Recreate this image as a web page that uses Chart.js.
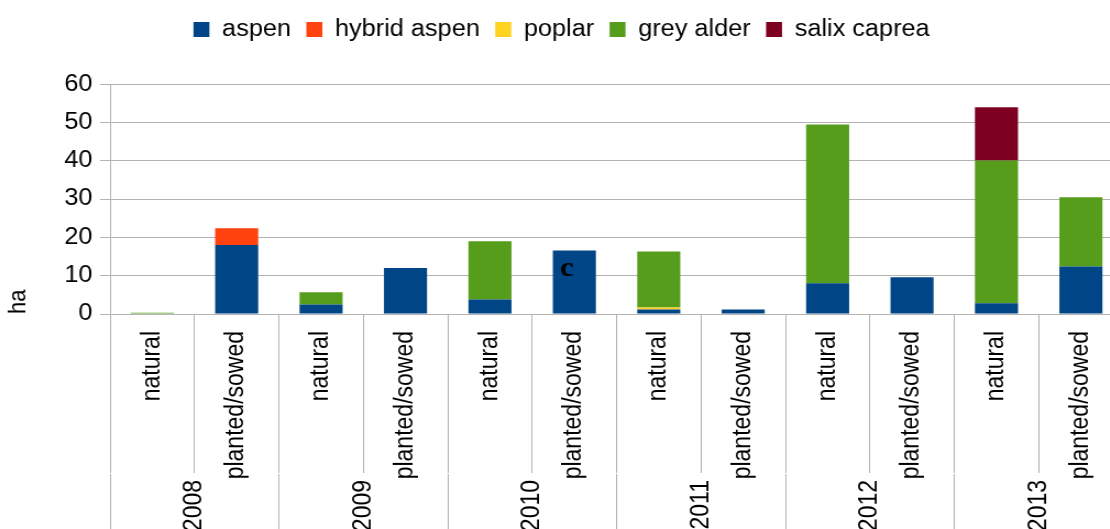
<!DOCTYPE html>
<html>
<head>
<meta charset="utf-8">
<script src="https://cdn.jsdelivr.net/npm/chart.js@4.4.1/dist/chart.umd.min.js"></script>
<style>
  html, body { margin: 0; padding: 0; overflow: hidden; background: #fff; }
  /* the reference is a little wider than tall, stretch the drawing to match */
  #chart { display: block; transform: scaleX(1.1); transform-origin: 0 0; }
</style>
</head>
<body>
<canvas id="chart" width="1021" height="529"></canvas>
<script>
// Data
const categories = ['natural', 'planted/sowed', 'natural', 'planted/sowed', 'natural', 'planted/sowed',
                    'natural', 'planted/sowed', 'natural', 'planted/sowed', 'natural', 'planted/sowed'];
const years = ['2008', '2009', '2010', '2011', '2012', '2013'];

const aspen       = [0,   18,  2.5, 12, 3.8,  16.6, 1.2,  1.2, 8,    9.6, 2.8,  12.4];
const hybridAspen = [0,   4.4, 0,   0,  0,    0,    0,    0,   0,    0,   0,    0];
const poplar      = [0,   0,   0,   0,  0,    0,    0.5,  0,   0,    0,   0,    0];
const greyAlder   = [0.3, 0,   3.2, 0,  15.2, 0,    14.6, 0,   41.5, 0,   37.3, 18.1];
const salixCaprea = [0,   0,   0,   0,  0,    0,    0,    0,   0,    0,   13.9, 0];

// stray letter sitting on the 2010 planted/sowed bar
const note = { text: 'c', index: 5, value: 9.8 };

const gridColor = '#b3b3b3';

Chart.defaults.font.family = '"Liberation Sans", Arial, sans-serif';
Chart.defaults.color = '#000';

const notePlugin = {
  id: 'note',
  afterDatasetsDraw(chart) {
    const { ctx, scales } = chart;
    const x = scales.x.getPixelForValue(note.index) - 7;
    const y = scales.y.getPixelForValue(note.value);
    ctx.save();
    ctx.font = 'bold 28px "Liberation Serif", serif';
    ctx.fillStyle = '#000';
    ctx.textAlign = 'center';
    ctx.textBaseline = 'alphabetic';
    ctx.fillText(note.text, x, y);
    ctx.restore();
  }
};

function series(label, data, color) {
  return {
    label,
    data,
    backgroundColor: color,
    borderWidth: 0,
    categoryPercentage: 1,
    barPercentage: 0.51
  };
}

new Chart(document.getElementById('chart'), {
  type: 'bar',
  data: {
    labels: categories,
    datasets: [
      series('aspen', aspen, '#004586'),
      series('hybrid aspen', hybridAspen, '#ff420e'),
      series('poplar', poplar, '#ffd320'),
      series('grey alder', greyAlder, '#579d1c'),
      series('salix caprea', salixCaprea, '#7e0021')
    ]
  },
  options: {
    responsive: false,
    animation: false,
    devicePixelRatio: 1,
    layout: { padding: { top: 4, left: 0, right: 0, bottom: 0 } },
    plugins: {
      legend: {
        position: 'top',
        labels: {
          font: { size: 23 },
          boxWidth: 14.5,
          boxHeight: 15,
          padding: 14,
          color: '#000'
        }
      },
      // empty title used as a spacer between legend and plot
      title: {
        display: true,
        text: '',
        position: 'top',
        weight: 500,
        font: { size: 1 },
        padding: { top: 0, bottom: 32 }
      },
      tooltip: { enabled: false }
    },
    scales: {
      x: {
        stacked: true,
        offset: true,
        grid: { offset: true, drawOnChartArea: false, color: gridColor, tickLength: 159 },
        border: { color: gridColor },
        ticks: {
          autoSkip: false,
          maxRotation: 90,
          minRotation: 90,
          padding: -142,
          font: { size: 23 },
          color: '#000'
        },
        afterFit: s => {
          s.height = 160;
          // let the long labels run past the short ticks instead of being clipped
          s._computeLabelArea = () => undefined;
        }
      },
      x2: {
        type: 'category',
        labels: years,
        position: 'bottom',
        weight: 1,
        offset: true,
        grid: { offset: true, drawOnChartArea: false, color: gridColor, tickLength: 60 },
        border: { display: false },
        ticks: {
          autoSkip: false,
          maxRotation: 90,
          minRotation: 90,
          padding: -54,
          font: { size: 23 },
          color: '#000'
        },
        afterFit: s => { s.height = 55; }
      },
      y: {
        stacked: true,
        min: 0,
        max: 60,
        ticks: { stepSize: 10, padding: 7, font: { size: 23 }, color: '#000' },
        grid: { color: gridColor, tickLength: 9 },
        border: { color: gridColor },
        title: {
          display: true,
          text: 'ha',
          align: 'start',
          font: { size: 22 },
          color: '#000',
          padding: { top: 4, bottom: 0 }
        },
        afterFit: s => { s.width = 100; }
      }
    }
  },
  plugins: [notePlugin]
});
</script>
</body>
</html>
